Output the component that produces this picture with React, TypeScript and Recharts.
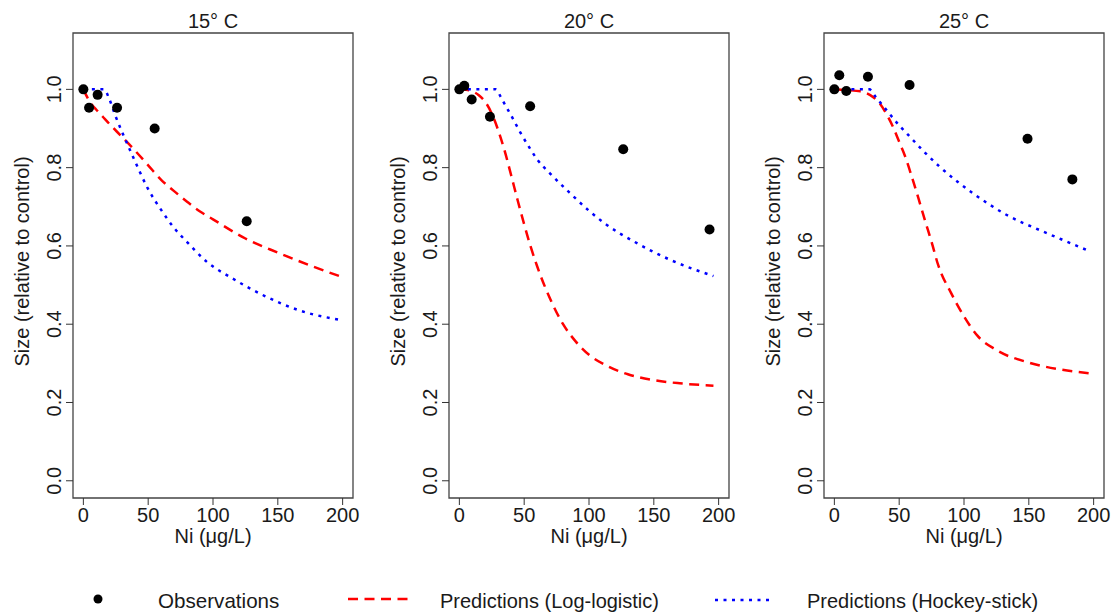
import React from 'react';
import { ComposedChart, XAxis, YAxis, Line, Scatter, ReferenceArea } from 'recharts';

// ---- data ----
const xTicks = [0, 50, 100, 150, 200];
const yTicks = [0, 0.2, 0.4, 0.6, 0.8, 1.0];
const panelTitles = ['15° C', '20° C', '25° C'];

// observations
const obs15X = [0, 4.4, 11, 26, 55, 126];
const obs15Y = [1.0, 0.953, 0.986, 0.953, 0.9, 0.663];
const obs20X = [0, 3.8, 9.5, 23.6, 54.6, 126.4, 193];
const obs20Y = [1.0, 1.009, 0.974, 0.93, 0.957, 0.847, 0.642];
const obs25X = [0, 3.8, 9.2, 25.9, 58, 149, 183.6];
const obs25Y = [1.0, 1.036, 0.996, 1.032, 1.011, 0.874, 0.77];

// log-logistic predictions
const ll15X = [0, 5, 10, 15, 20, 30, 40, 50, 60, 70, 80, 90, 100, 125, 150, 175, 200];
const ll15Y = [1.0, 0.968, 0.948, 0.93, 0.912, 0.878, 0.843, 0.806, 0.769, 0.74, 0.713, 0.688, 0.668, 0.619, 0.583, 0.55, 0.52];
const ll20X = [0, 5, 10, 15, 20, 25, 30, 35, 40, 45, 50, 55, 60, 70, 80, 90, 100, 115, 130, 150, 170, 196];
const ll20Y = [1.0, 0.999, 0.995, 0.985, 0.968, 0.938, 0.895, 0.842, 0.78, 0.716, 0.655, 0.598, 0.548, 0.465, 0.4, 0.355, 0.322, 0.292, 0.272, 0.257, 0.249, 0.243];
const ll25X = [0, 10, 20, 25, 30, 35, 40, 45, 50, 55, 60, 65, 70, 75, 80, 90, 100, 110, 125, 150, 175, 199];
const ll25Y = [1.0, 0.998, 0.995, 0.99, 0.98, 0.964, 0.938, 0.906, 0.866, 0.825, 0.774, 0.72, 0.664, 0.61, 0.552, 0.48, 0.42, 0.372, 0.334, 0.302, 0.284, 0.274];

// hockey-stick predictions
const hs15X = [0, 16, 20, 25, 30, 35, 40, 50, 60, 70, 80, 95, 115, 140, 165, 200];
const hs15Y = [1.0, 1.0, 0.975, 0.93, 0.89, 0.852, 0.815, 0.745, 0.692, 0.646, 0.61, 0.56, 0.517, 0.472, 0.437, 0.41];
const hs20X = [0, 28, 32, 35, 40, 47, 55, 60, 70, 85, 100, 112, 137, 163, 196];
const hs20Y = [1.0, 1.0, 0.98, 0.962, 0.933, 0.89, 0.846, 0.821, 0.785, 0.736, 0.69, 0.658, 0.607, 0.564, 0.523];
const hs25X = [0, 27, 32, 40, 50, 56, 70, 81, 95, 107, 120, 133, 158, 175, 195];
const hs25Y = [1.0, 1.0, 0.98, 0.948, 0.908, 0.887, 0.838, 0.803, 0.764, 0.734, 0.705, 0.679, 0.641, 0.617, 0.589];

const legendLabels = ['Observations', 'Predictions (Log-logistic)', 'Predictions (Hockey-stick)'];

const zip = (xs: number[], ys: number[]) => xs.map((x, i) => ({ x, y: ys[i] }));

const panels = [
  { title: panelTitles[0], obs: zip(obs15X, obs15Y), ll: zip(ll15X, ll15Y), hs: zip(hs15X, hs15Y) },
  { title: panelTitles[1], obs: zip(obs20X, obs20Y), ll: zip(ll20X, ll20Y), hs: zip(hs20X, hs20Y) },
  { title: panelTitles[2], obs: zip(obs25X, obs25Y), ll: zip(ll25X, ll25Y), hs: zip(hs25X, hs25Y) },
];

const FONT = '"Liberation Sans", Arial, Helvetica, sans-serif';
const TEXT = '#1a1a1a';
const RED = '#ff0000';
const BLUE = '#0000ff';
const panelLefts = [0, 376, 751];

const ObsDot = (p: any) => <circle cx={p.cx} cy={p.cy} r={5} fill="#000" />;

const YTick = (p: any) => {
  const cx = p.x - 10;
  return (
    <text x={cx} y={p.y} dy="0.35em" textAnchor="middle" transform={`rotate(-90 ${cx} ${p.y})`}
      fontSize={20} fontFamily={FONT} fill={TEXT}>
      {Number(p.payload.value).toFixed(1)}
    </text>
  );
};

const YLabel = (p: any) => {
  const vb = p.viewBox;
  const cx = 28.5;
  const cy = vb.y + vb.height / 2 - 4;
  return (
    <text x={cx} y={cy} textAnchor="middle" transform={`rotate(-90 ${cx} ${cy})`}
      fontSize={20} fontFamily={FONT} fill={TEXT}>
      Size (relative to control)
    </text>
  );
};

const XLabel = (p: any) => {
  const vb = p.viewBox;
  return (
    <text x={vb.x + vb.width / 2} y={543} textAnchor="middle" fontSize={20} fontFamily={FONT} fill={TEXT}>
      Ni (μg/L)
    </text>
  );
};

function Panel({ panel, left }: { panel: any; left: number }) {
  return (
    <div style={{ position: 'absolute', left, top: 0, width: 366, height: 560 }}>
      <ComposedChart width={366} height={560} margin={{ top: 33, right: 13, bottom: 12, left: 13 }}>
        <XAxis type="number" dataKey="x" domain={[-8, 208]} ticks={xTicks} allowDataOverflow
          axisLine={false} tickLine={{ stroke: '#333' }} tickSize={7} tickMargin={3} height={50}
          tick={{ fill: TEXT, fontSize: 20, fontFamily: FONT }} interval={0}
          label={{ content: XLabel }} />
        <YAxis type="number" dataKey="y" domain={[-0.044, 1.144]} ticks={yTicks} allowDataOverflow
          axisLine={false} tickLine={{ stroke: '#333' }} tickSize={7} width={60} interval={0}
          tick={<YTick />} label={{ content: YLabel }} />
        <ReferenceArea x1={-8} x2={208} y1={-0.044} y2={1.144} fill="none" fillOpacity={0}
          stroke="#444" strokeWidth={1.3} ifOverflow="visible" />
        <Line data={panel.ll} dataKey="y" type="monotone" stroke={RED} strokeWidth={2.5}
          strokeDasharray="10 6.5" dot={false} activeDot={false} isAnimationActive={false} />
        <Line data={panel.hs} dataKey="y" type="monotone" stroke={BLUE} strokeWidth={2.5}
          strokeDasharray="3 5.5" dot={false} activeDot={false} isAnimationActive={false} />
        <Scatter data={panel.obs} dataKey="y" fill="#000" shape={ObsDot} isAnimationActive={false} />
      </ComposedChart>
    </div>
  );
}

export default function App() {
  return (
    <div style={{ position: 'absolute', left: 0, top: 0, width: 1117, height: 614, overflow: 'hidden', background: '#fff', fontFamily: FONT }}>
      {panels.map((p, i) => (
        <Panel key={p.title} panel={p} left={panelLefts[i]} />
      ))}
      <svg width={1117} height={614} style={{ position: 'absolute', left: 0, top: 0, pointerEvents: 'none' }}>
        {panels.map((p, i) => (
          <text key={p.title} x={panelLefts[i] + 213} y={28} textAnchor="middle" fontSize={20} fontFamily={FONT} fill={TEXT}>
            {p.title}
          </text>
        ))}
        <circle cx={98} cy={599} r={4.5} fill="#000" />
        <text x={158} y={607.5} fontSize={20.6} fontFamily={FONT} fill={TEXT}>{legendLabels[0]}</text>
        <line x1={348} x2={410} y1={599} y2={599} stroke={RED} strokeWidth={2.5} strokeDasharray="10 6.5" />
        <text x={440} y={607.5} fontSize={20} fontFamily={FONT} fill={TEXT}>{legendLabels[1]}</text>
        <line x1={715} x2={773} y1={600} y2={600} stroke={BLUE} strokeWidth={2.5} strokeDasharray="3 5.5" />
        <text x={807} y={607.5} fontSize={20} fontFamily={FONT} fill={TEXT}>{legendLabels[2]}</text>
      </svg>
    </div>
  );
}
